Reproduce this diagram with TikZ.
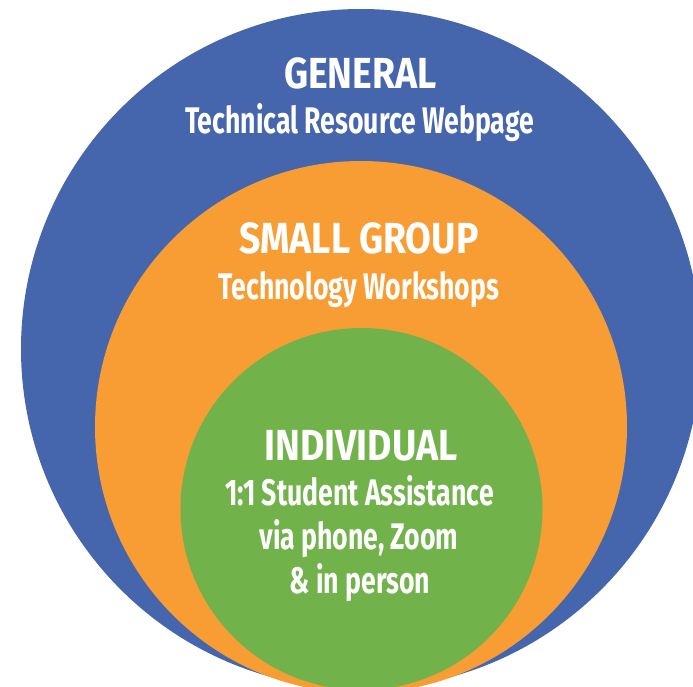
\documentclass[tikz,border=0pt]{standalone}
\usepackage{fontspec}
\newfontfamily\titlefont{Fira Sans}[FakeStretch=0.86]
\newfontfamily\subfont{Fira Sans}[FakeStretch=0.72]
\definecolor{cblue}{HTML}{4565AD}
\definecolor{corange}{HTML}{F79D34}
\definecolor{cgreen}{HTML}{71B24B}
\begin{document}
\begin{tikzpicture}[x=1pt,y=-1pt,
  ring/.style={circle,inner sep=0pt,outer sep=0pt,draw=none},
  ttl/.style={text=white,anchor=base,inner sep=0pt,font=\titlefont\bfseries\fontsize{43.5}{44}\selectfont},
  sub/.style={text=white,anchor=base,inner sep=0pt,font=\subfont\bfseries\fontsize{37}{38}\selectfont}]
\useasboundingbox (0,0) rectangle (693,686);
\begin{scope}
\clip (0,0) rectangle (693,686);
\node[ring,fill=cblue,minimum size=680pt] (general) at (361,349) {};
\node[ring,fill=corange,minimum size=532pt] (small) at (361,427) {};
\node[ring,fill=cgreen,minimum size=362pt] (indiv) at (361.5,509) {};
\end{scope}
\node[ttl] (t1) at (360.5,88) {GENERAL};
\node[sub] (s1) at (359.5,133) {Technical Resource Webpage};
\node[ttl] (t2) at (359,253) {SMALL GROUP};
\node[sub] (s2) at (359,299) {Technology Workshops};
\node[ttl] (t3) at (361,460) {INDIVIDUAL};
\node[sub] (s3a) at (359.5,505) {1:1 Student Assistance};
\node[sub] (s3b) at (359,549) {via phone, Zoom};
\node[sub] (s3c) at (360,593) {\& in person};
\end{tikzpicture}
\end{document}
